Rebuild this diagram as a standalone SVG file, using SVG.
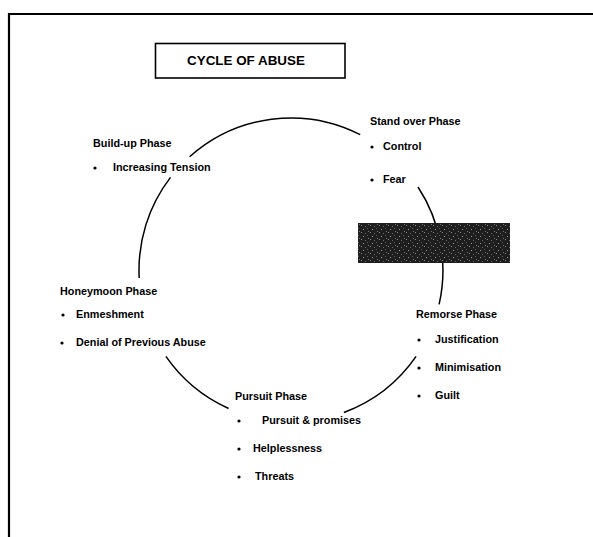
<svg xmlns="http://www.w3.org/2000/svg" width="593" height="537" viewBox="0 0 593 537">
<style>
  .h { font-family: "Liberation Sans", Arial, sans-serif; font-weight: bold; font-size: 10.8px; fill: #000; }
  .t { font-family: "Liberation Sans", Arial, sans-serif; font-weight: bold; font-size: 13.4px; fill: #000; }
  .arc { fill: none; stroke: #000; stroke-width: 1.5; }
  .frame { fill: none; stroke: #000; stroke-width: 2.2; }
  .b { fill: #000; }
</style>
<defs>
  <pattern id="noise" width="9" height="7" patternUnits="userSpaceOnUse">
    <rect width="9" height="7" fill="#1e1e1e"/>
    <rect x="1" y="1" width="1" height="1" fill="#8a8a8a"/>
    <rect x="5" y="2" width="1" height="1" fill="#6a6a6a"/>
    <rect x="3" y="5" width="1" height="1" fill="#9a9a9a"/>
    <rect x="7" y="4" width="1" height="1" fill="#5a5a5a"/>
    <rect x="8" y="0" width="1" height="1" fill="#777"/>
  </pattern>
</defs>
<rect width="593" height="537" fill="#fff"/>
<path class="frame" d="M9,537 V14 H593"/>

<g id="connectors">
  <path class="arc" d="M189.6,156.8 A152,152 0 0 1 360.2,134.6"/>
  <path class="arc" d="M418,187 A152,152 0 0 1 439.1,304.3"/>
  <path class="arc" d="M416.1,356.4 A152,152 0 0 1 343.9,412.5"/>
  <path class="arc" d="M228.6,408.5 A152,152 0 0 1 165.9,356.4"/>
  <path class="arc" d="M139.2,278 A152,152 0 0 1 170.5,177.4"/>
</g>

<g id="blackout">
  <rect x="358" y="223" width="152" height="40" fill="url(#noise)"/>
</g>

<g id="title">
  <rect x="155.5" y="43.5" width="189.5" height="34.5" fill="#fff" stroke="#000" stroke-width="1.6"/>
  <text class="t" x="246" y="65" text-anchor="middle">CYCLE OF ABUSE</text>
</g>

<g id="buildup">
  <text class="h" x="93" y="147">Build-up Phase</text>
  <circle class="b" cx="95" cy="168" r="1.6"/>
  <text class="h" x="113" y="171">Increasing Tension</text>
</g>

<g id="standover">
  <text class="h" x="370" y="125">Stand over Phase</text>
  <circle class="b" cx="372" cy="147" r="1.6"/>
  <text class="h" x="383" y="150">Control</text>
  <circle class="b" cx="372" cy="180" r="1.6"/>
  <text class="h" x="383" y="183">Fear</text>
</g>

<g id="remorse">
  <text class="h" x="416" y="318">Remorse Phase</text>
  <circle class="b" cx="419" cy="340" r="1.6"/>
  <text class="h" x="435" y="343">Justification</text>
  <circle class="b" cx="419" cy="368" r="1.6"/>
  <text class="h" x="435" y="371">Minimisation</text>
  <circle class="b" cx="419" cy="396" r="1.6"/>
  <text class="h" x="435" y="399">Guilt</text>
</g>

<g id="pursuit">
  <text class="h" x="235" y="400">Pursuit Phase</text>
  <circle class="b" cx="239" cy="421" r="1.6"/>
  <text class="h" x="262" y="424">Pursuit &amp; promises</text>
  <circle class="b" cx="239" cy="449" r="1.6"/>
  <text class="h" x="253" y="452">Helplessness</text>
  <circle class="b" cx="239" cy="477" r="1.6"/>
  <text class="h" x="255" y="480">Threats</text>
</g>

<g id="honeymoon">
  <text class="h" x="60" y="295">Honeymoon Phase</text>
  <circle class="b" cx="63" cy="315" r="1.6"/>
  <text class="h" x="76" y="318">Enmeshment</text>
  <circle class="b" cx="62" cy="343" r="1.6"/>
  <text class="h" x="76" y="346">Denial of Previous Abuse</text>
</g>
</svg>
